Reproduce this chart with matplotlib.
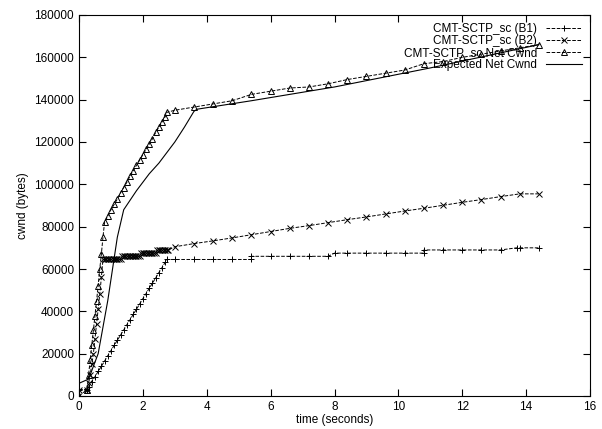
import matplotlib
matplotlib.use("Agg")
import matplotlib.pyplot as plt

# data
b1_t = [0, 0.25, 0.3, 0.4, 0.5, 0.6, 0.7, 0.8, 0.9, 1.0, 1.1, 1.2, 1.3, 1.4, 1.5, 1.6, 1.7, 1.8, 1.9,
        2.0, 2.1, 2.2, 2.3, 2.4, 2.5, 2.6, 2.7, 2.75, 3.0, 3.6, 4.2, 4.8, 5.4, 5.4, 6.0, 6.6, 7.2, 7.8,
        8.0, 8.4, 9.0, 9.6, 10.2, 10.8, 10.8, 11.4, 12.0, 12.6, 13.2, 13.7, 13.8, 14.4]
b1_y = [3000, 3000, 4200, 6700, 9100, 11600, 14000, 16500, 19000, 21400, 23900, 26300, 28800, 31200,
        33700, 36100, 38600, 41000, 43500, 46000, 48400, 50900, 53300, 55800, 58300, 60700, 63200,
        64500, 64500, 64500, 64500, 64500, 64500, 66000, 66000, 66000, 66000, 66000, 67500, 67500,
        67500, 67500, 67500, 67500, 69000, 69000, 69000, 69000, 69000, 70000, 70000, 70000]

b2_t = [0, 0.25, 0.3, 0.35, 0.4, 0.45, 0.5, 0.55, 0.6, 0.65, 0.7, 0.75, 0.8, 0.85, 0.9, 0.95, 1.0,
        1.05, 1.1, 1.15, 1.2, 1.25, 1.3, 1.35, 1.4, 1.45, 1.5, 1.55, 1.6, 1.65, 1.7, 1.75, 1.8, 1.85,
        1.9, 1.95, 2.0, 2.05, 2.1, 2.15, 2.2, 2.25, 2.3, 2.35, 2.4, 2.45, 2.5, 2.55, 2.6, 2.65, 2.7,
        2.75, 2.8, 3.0, 3.6, 4.2, 4.8, 5.4, 6.0, 6.6, 7.2, 7.8, 8.4, 9.0, 9.6, 10.2, 10.8, 11.4, 12.0,
        12.6, 13.2, 13.8, 14.4]
b2_y = [3000, 3000, 6000, 10000, 15000, 20000, 27000, 34000, 41000, 48000, 56000, 64500, 64500, 64500,
        64500, 64500, 64500, 64500, 64500, 64500, 64500, 64500, 64500, 66000, 66000, 66000, 66000,
        66000, 66000, 66000, 66000, 66000, 66000, 66000, 66000, 67500, 67500, 67500, 67500, 67500,
        67500, 67500, 67500, 67500, 67500, 69000, 69000, 69000, 69000, 69000, 69000, 69000, 69000,
        70500, 72000, 73300, 74700, 76200, 77700, 79200, 80500, 81900, 83300, 84600, 86000, 87400,
        88700, 90100, 91500, 92800, 94200, 95500, 95500]

net_t = [0, 0.25, 0.3, 0.35, 0.4, 0.45, 0.5, 0.55, 0.6, 0.65, 0.7, 0.75, 0.8, 0.9, 1.0, 1.1, 1.2, 1.3,
         1.4, 1.5, 1.6, 1.7, 1.8, 1.9, 2.0, 2.1, 2.2, 2.3, 2.4, 2.5, 2.6, 2.7, 2.75, 3.0, 3.6, 4.2,
         4.8, 5.4, 6.0, 6.6, 7.2, 7.8, 8.4, 9.0, 9.6, 10.2, 10.8, 11.4, 12.0, 12.6, 13.2, 13.8, 14.4]
net_y = [0, 3000, 10000, 17000, 24000, 31000, 38000, 45000, 52000, 60000, 67000, 75000, 82000, 85000,
         88000, 90500, 93000, 96000, 98500, 101000, 104000, 106500, 109000, 111500, 114000, 116500,
         119000, 121500, 124500, 127000, 129500, 132000, 134000, 135000, 136500, 138000, 139500,
         142500, 144000, 145500, 146000, 147500, 149500, 151000, 152500, 154000, 157000, 158000,
         160000, 161500, 163000, 164500, 166000]

exp_t = [0, 0.3, 0.6, 0.9, 1.2, 1.4, 1.8, 2.2, 2.5, 3.0, 3.3, 3.6, 3.7, 5.4, 8.0, 11.0, 14.4]
exp_y = [6000, 8000, 20000, 45000, 75000, 88000, 97000, 105000, 110000, 120000, 127000, 134500,
         135500, 139500, 146000, 155000, 166000]

plt.rcParams["font.family"] = ["Liberation Sans", "DejaVu Sans"]
plt.rcParams["font.size"] = 8.5

fig = plt.figure(figsize=(6.02, 4.29), dpi=100)
ax = fig.add_axes([79 / 602, 33 / 429, 511 / 602, 381 / 429])

ax.plot(b1_t, b1_y, "k--", marker="+", ms=5, lw=0.7, mew=0.7, label="CMT-SCTP_sc (B1)")
ax.plot(b2_t, b2_y, "k--", marker="x", ms=4, lw=0.7, mew=0.7, label="CMT-SCTP_sc (B2)")
ax.plot(net_t, net_y, "k--", marker="^", ms=4, lw=0.7, mew=0.7, mfc="none",
        label="CMT-SCTP_sc Net Cwnd")
ax.plot(exp_t, exp_y, "k-", lw=0.8, label="Expected Net Cwnd")

ax.set_xlim(0, 16)
ax.set_ylim(0, 180000)
ax.set_xticks(range(0, 17, 2))
ax.set_yticks(range(0, 180001, 20000))
ax.tick_params(direction="in", top=True, right=True, length=5)
ax.set_xlabel("time (seconds)", labelpad=1)
ax.set_ylabel("cwnd (bytes)")

ax.legend(loc="upper right", frameon=False, markerfirst=False, handlelength=3,
          labelspacing=0.0, borderaxespad=0.3)

fig.savefig("out.png", dpi=100)
